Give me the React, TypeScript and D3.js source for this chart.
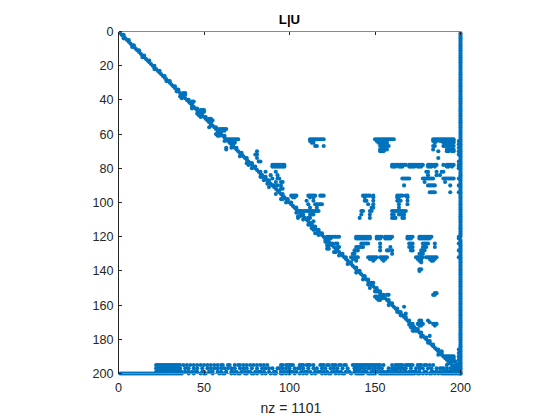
import React from "react";
import * as d3 from "d3";

const title = "L|U";
const xLabel = "nz = 1101";
const xTicks = [0, 50, 100, 150, 200];
const yTicks = [0, 20, 40, 60, 80, 100, 120, 140, 160, 180, 200];

const diagonal = [
  1,2,3,4,5,6,7,8,9,10,11,12,13,14,15,16,17,18,19,20,21,22,23,24,25,26,27,28,29,30,31,32,33,34,35,36,37,38,39,40,
  41,42,43,44,45,46,47,48,49,50,51,52,53,54,55,56,57,58,59,60,61,62,63,64,65,66,67,68,69,70,71,72,73,74,75,76,77,78,79,80,
  81,82,83,84,85,86,87,88,89,90,91,92,93,94,95,96,97,98,99,100,101,102,103,104,105,106,107,108,109,110,111,112,113,114,115,116,117,118,119,120,
  121,122,123,124,125,126,127,128,129,130,131,132,133,134,135,136,137,138,139,140,141,142,143,144,145,146,147,148,149,150,151,152,153,154,155,156,157,158,159,160,
  161,162,163,164,165,166,167,168,169,170,171,172,173,174,175,176,177,178,179,180,181,182,183,184,185,186,187,188,189,190,191,192,193,194,195,196,197,198,199,200,
];

// rows that also hold the entry right of the diagonal
const superDiagonal = [
  2,5,8,11,14,17,20,23,26,29,32,34,37,40,42,45,47,50,53,56,58,61,63,66,68,71,74,77,79,82,85,87,90,93,95,98,100,
  103,105,107,110,112,114,116,118,121,124,127,130,132,135,138,140,143,145,147,150,152,154,157,159,162,164,167,169,171,174,176,179,181,183,186,188,191,
];

// [row, columns]
const upperEntries: [number, number[]][] = [
  [36,[38,39]],[37,[39]],[41,[43,44]],[46,[48,49,50]],[47,[49,50]],[51,[53,54]],[52,[54,55]],[57,[59,60,61,62,63]],[58,[60,61,62]],
  [63,[65,66,67,68,69,70,112,113,114,115,116,117,118,119,120,150,151,152,153,154,155,156,157,158,159,160,161,184,185,186,187,188,189,190,191,192,193,194,195,196]],
  [64,[66,67,68,112,113,114,151,152,153,154,155,184,185,186,188,189,190,191,192,193,194,195,196]],
  [65,[67,68,113,114,152,153,154,155,156,157,185,190,191,192,193,194,195,196]],
  [67,[115,116,120,153,154,155,156,157,158,184,185,190,191,192,193,194,195,196]],
  [69,[153,154,155,156,157,184,192,193,194,195,196]],
  [70,[81,153,154,155,187,192,193,195,196]],
  [72,[80,81]],[74,[81,187]],[76,[82,83]],
  [78,[90,91,92,93,94,95,96,97,160,161,162,163,164,165,166,167,168,170,171,172,173,174,175,176,177,178,181,182,183,184,185,186,190,192,193,194,195,196]],
  [79,[90,91,92,93,94,95,96,97,160,161,162,164,165,166,170,171,172,173,175,176,177,181,182,183,185,192,193,195]],
  [82,[180,181,186,189,190,92,86]],[84,[89,93,181,186,188]],
  [86,[90,93,94,166,167,168,169,170,178,179,180,181,182,183,184,190,191,192,193,194,195,196]],
  [88,[92,95,96,179,191]],[90,[93,95,167,181,182,183,184,185,194]],
  [92,[95,96]],[94,[182,183,184,185,194]],
  [96,[101,102,103,104,111,112,113,114,115,118,119,120,143,144,145,146,147,149,163,164,165,166,168,169]],
  [97,[102,103,112,114,144,149,163,164,169]],
  [99,[110,114,144,145,149,163,164,165,169]],
  [101,[111,115,116,117,118,119,146,149,164,169]],
  [103,[112,116,148,149,164]],
  [105,[106,107,108,109,110,111,112,113,114,115,116,117,142,143,147,148,160,161,162,163,164,165,166,167,168]],
  [107,[112,113,114,142,147,160,161,164,165,166,167]],
  [109,[105,111,112,141,147,160,161,162,166,167]],[111,[114]],
  [120,[122,123,124,125,126,127,128,129,139,140,141,142,143,144,145,146,147,151,152,153,154,156,157,158,159,160,169,170,171,172,176,177,178,179,180,181,182,183]],
  [121,[123,124,139,140,141,142,143,144,145,146,147,151,152,153,156,157,158,159,169,170,171,176,177,178,179,180,181,182]],
  [124,[127,128,142,143,144,145,146,153,170,171,172,178,179,180,181,185]],
  [126,[128,129,139,140,141,142,143,153,159,170,171,172,178,179,180,185]],
  [128,[138,139,140,153,157,158,160,171,172,177,178,179]],
  [130,[137,138,160,176,177,178]],
  [132,[136,137,138,139,140,146,147,148,149,150,151,153,154,155,156,157,174,175,176,177,178,180,181,182,183,184,185,186]],
  [133,[137,138,147,148,149,150,154,155,156,175,176,177,182,183,184,185]],
  [134,[139,149,155,176,177,183,184]],[135,[177]],
  [139,[176,177]],[140,[176]],[147,[149]],
  [153,[185,186]],[154,[157,158,184,185]],
  [161,[167]],[165,[168]],
  [169,[176,177,181]],[170,[176,177,182]],[171,[175,176,177,178,184,185,186]],[172,[176,177,185]],
  [178,[182]],[187,[189]],[190,[191,192,193,194,195,196]],[191,[192,193,194,195,196]],
  [192,[194,196]],[193,[195,196,197]],[195,[197,198]],[197,[198,199]],[198,[199]],
];

// [row, columns]
const lowerEntries: [number, number[]][] = [
  [4,[3]],[9,[8]],[15,[14]],[22,[21]],[29,[28]],[35,[34]],[38,[36]],[39,[37]],[44,[43]],[45,[43]],[48,[46]],[49,[47]],[50,[48]],
  [55,[54]],[56,[53]],[60,[57,58]],[61,[58,59]],[64,[62]],[68,[63,66]],[69,[63]],[73,[71]],[77,[75]],[78,[76]],
  [80,[78]],[85,[84,83]],[87,[85]],[89,[87]],[91,[88]],[95,[92]],[98,[95,96]],[100,[98]],
  [106,[104]],[108,[105,106]],[110,[108]],[113,[112,111]],[115,[113]],[116,[114]],[118,[115,116]],[119,[117]],
  [122,[121]],[123,[121,122]],[125,[122,123]],[127,[122,123]],[129,[126,127]],[131,[129]],[136,[134]],
  [141,[139]],[145,[143]],[148,[146,147]],[150,[147]],[152,[150,151]],[155,[150,151,152,153,154]],[156,[151,152,153,155]],[157,[152,153]],
  [160,[158]],[164,[163]],[166,[165]],[171.5,[170]],[173,[172,171]],[175,[172,173,174]],[178.5,[177]],[182,[181]],[189,[187]],[194,[193]],
];

const lastColumn = [
  1,2,3,4,5,6,7,8,9,10,11,12,13,14,15,16,17,18,19,20,21,22,23,24,25,26,27,28,29,30,31,32,33,34,35,36,37,38,39,40,
  41,42,43,44,45,46,47,48,49,50,51,52,53,54,55,56,57,58,59,60,61,62,63,64,65,66,67,68,69,70,71,72,73,74,75,76,77,78,79,80,
  81,82,83,84,85,86,87,88,89,90,91,92,93,94,95,96,97,98,99,100,101,102,103,104,105,106,107,108,109,110,111,112,113,114,115,116,117,118,119,120,
  122,123,124,125,126,127,128,129,130,131,132,133,134,135,136,137,138,139,140,141,142,143,144,145,146,147,148,149,150,151,152,153,154,155,156,157,158,159,160,
  161,162,163,164,165,166,167,168,169,170,171,172,173,174,175,176,177,178,179,180,181,182,183,184,185,186,187,188,189,190,191,192,193,194,195,196,197,198,199,200,
];
const secondLastColumn = [64,66,68,70,72,76,78,79,80,86,90,94,120,121,124,128,132,186,188,190,192,194,196,198];

const row195 = [22,23,24,25,26,27,28,29,30,31,32,33,34,35,36,38,40,42,44,46,48,50,52,54,56,58,60,61,64,65,68,70,71,73,75,77,79,81,83,85,87,95,96,98,99,100,101,102,106,107,108,110,111,112,114,118,119,120,122,123,125,126,127,129,130,132,133,137,138,139,140,141,142,143,144,145,146,147,148,149,150,151,152,153,155,160,162,163,164,165,166,168,169,170,171,172,175,176,177,179,180,182,184,192];
const row197 = [22,23,24,25,26,27,28,29,30,31,32,33,34,35,36,39,41,44,46,49,52,54,56,58,60,62,64,66,68,71,73,75,78,81,84,86,88,90,93,94,96,98,100,103,105,106,108,111,114,116,119,121,124,126,128,131,134,138,139,140,141,142,144,146,147,149,150,152,154,158,160,161,162,163,164,165,166,167,168,171,174,176,178,181,183,186,188,189,190,192,194,195,196,198];
const row199 = [22,23,24,25,26,27,28,29,30,31,32,33,34,35,36,37,39,41,43,45,46,49,50,53,55,58,60,63,66,67,69,72,74,76,77,80,82,83,85,88,91,92,95,97,99,101,102,104,107,109,110,112,115,117,118,120,122,125,127,128,130,133,135,138,139,140,141,143,144,145,148,149,151,153,155,157,158,159,160,161,162,163,165,167,168,170,172,173,174,176,179,180,183,184,186,188,190,191,192,193,194,195,196,197,198,199];
const row200 = [1,2,3,4,5,6,7,8,9,10,11,12,13,14,15,16,17,18,19,20,21,22,23,24,25,26,27,28,29,30,31,32,33,34,35,36,37,41,44,48,50,51,55,59,61,62,66,68,70,71,74,75,78,79,81,84,86,89,91,92,95,96,98,100,103,106,108,110,113,115,119,121,123,124,127,129,131,132,136,139,140,141,142,143,146,147,148,149,150,153,154,155,156,157,158,159,160,161,162,163,164,165,166,167,168,169,170,171,172,173,175,176,178,180,182,183,185,187,189,190,191,192,193,194,195,196,197,198,199,200];

const bottomRows: [number, number[]][] = [
  [195, row195],
  [197, row197],
  [199, row199],
  [200, row200],
];

const W = 560, H = 420;
const left = 118.5, right = 460.5, top = 31.5, bottom = 373.5;

export default function App() {
  const x = d3.scaleLinear().domain([0, 200]).range([left, right]);
  const y = d3.scaleLinear().domain([0, 200]).range([top, bottom]);

  const points: [number, number][] = [];
  diagonal.forEach((d) => points.push([d, d]));
  superDiagonal.forEach((d) => points.push([d, d + 1]));
  lastColumn.forEach((r) => points.push([r, 200]));
  secondLastColumn.forEach((r) => points.push([r, 199]));
  upperEntries.forEach(([r, cs]) => cs.forEach((c) => points.push([r, c])));
  lowerEntries.forEach(([r, cs]) => cs.forEach((c) => points.push([r, c])));
  bottomRows.forEach(([r, cs]) => cs.forEach((c) => points.push([r, c])));

  const textColor = "#262626";
  const font = "Arial, 'Liberation Sans', sans-serif";

  return (
    <svg
      width={W}
      height={H}
      viewBox={`0 0 ${W} ${H}`}
      style={{ position: "absolute", left: 0, top: 0, background: "#fff" }}
      fontFamily={font}
    >
      <g fill="#0072BD">
        {points.map(([r, c], i) => (
          <circle key={i} cx={x(c)} cy={y(r)} r={2.05} />
        ))}
      </g>
      <g stroke="#8a8a8a" strokeWidth={1} shapeRendering="crispEdges">
        <line x1={left} x2={right} y1={top} y2={top} />
        <line x1={left} x2={right} y1={bottom} y2={bottom} />
      </g>
      <line x1={left} x2={left} y1={top} y2={bottom} stroke="#262626" strokeWidth={1} shapeRendering="crispEdges" />
      <g stroke="#262626" strokeWidth={1} shapeRendering="crispEdges">
        {xTicks.map((t) => (
          <g key={t}>
            <line x1={x(t)} x2={x(t)} y1={top} y2={top + 3.4} />
            <line x1={x(t)} x2={x(t)} y1={bottom} y2={bottom - 3.4} />
          </g>
        ))}
        {yTicks.map((t) => (
          <line key={t} x1={left} x2={left + 3.4} y1={y(t)} y2={y(t)} />
        ))}
      </g>
      <g fontSize={12.6} fill={textColor}>
        {xTicks.map((t) => (
          <text key={t} x={x(t)} y={392} textAnchor="middle">{t}</text>
        ))}
        {yTicks.map((t) => (
          <text key={t} x={left - 5} y={y(t) + 4.5} textAnchor="end">{t}</text>
        ))}
      </g>
      <text x={291} y={413} fontSize={14} textAnchor="middle" fill={textColor}>{xLabel}</text>
      <text x={289.5} y={24} fontSize={13.2} fontWeight="bold" textAnchor="middle" fill="#000">{title}</text>
    </svg>
  );
}
